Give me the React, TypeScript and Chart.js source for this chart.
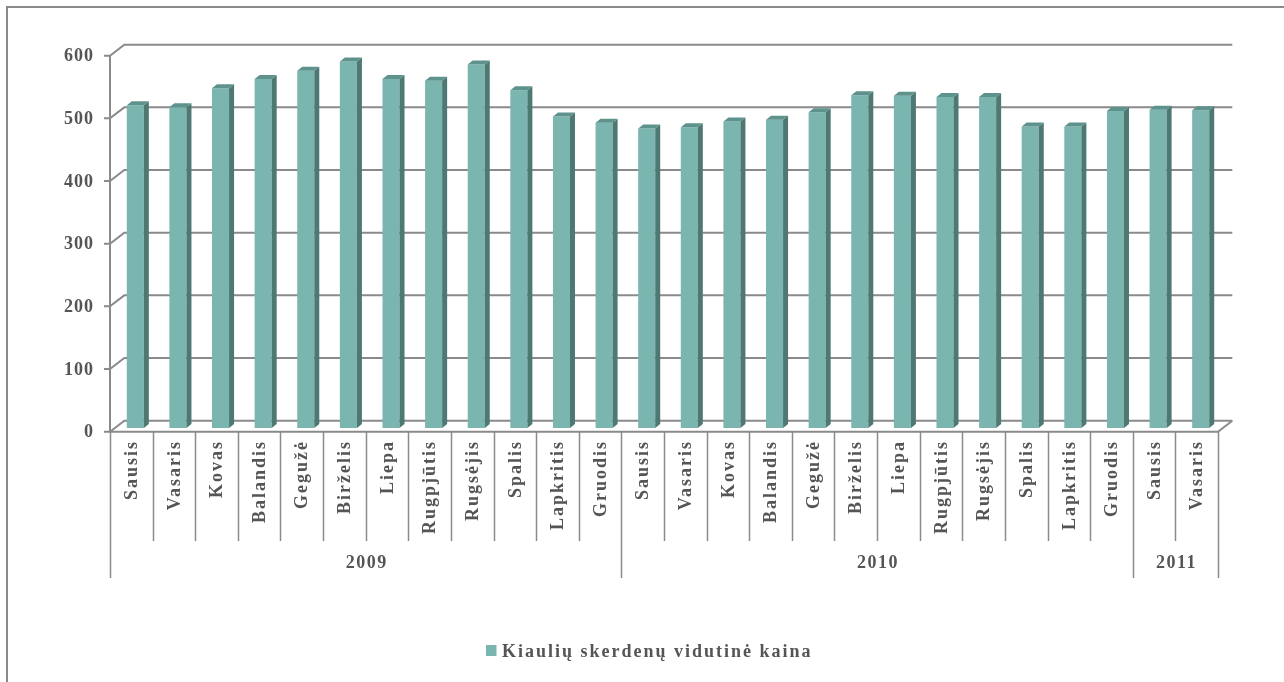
import React, { useEffect, useRef } from 'react';
import { Chart, registerables } from 'chart.js';

Chart.register(...registerables);

const months = [
  'Sausis', 'Vasaris', 'Kovas', 'Balandis', 'Gegužė', 'Birželis', 'Liepa', 'Rugpjūtis', 'Rugsėjis', 'Spalis', 'Lapkritis', 'Gruodis',
  'Sausis', 'Vasaris', 'Kovas', 'Balandis', 'Gegužė', 'Birželis', 'Liepa', 'Rugpjūtis', 'Rugsėjis', 'Spalis', 'Lapkritis', 'Gruodis',
  'Sausis', 'Vasaris',
];
const years = ['2009', '2010', '2011'];
const yearSpans = [12, 12, 2];
const prices = [
  515, 512, 542, 557, 570, 585, 557, 554, 580, 539, 497, 487,
  478, 480, 489, 492, 504, 531, 530, 528, 528, 481, 481, 506,
  508, 507,
];
const seriesLabel = 'Kiaulių skerdenų vidutinė kaina';
const yTickValues = [0, 100, 200, 300, 400, 500, 600];

const FRONT_COLOR = '#7AB5B0';
const SIDE_COLOR = '#4E7872';
const TOP_COLOR = '#5E928C';
const GRID_COLOR = '#8A8A8A';
const TEXT_COLOR = '#555555';
const FONT = 'bold 18px "Liberation Serif", "Times New Roman", serif';

// 3D offsets relative to the bar plane
const FRONT_DX = -4, FRONT_DY = 3.7;
const BACK_DX = 10.3, BACK_DY = -7.3;
const BAR_DX = 5, BAR_DY = -4;

const excel3d = {
  id: 'excel3d',
  beforeDatasetsDraw(chart: any) {
    const ctx = chart.ctx as CanvasRenderingContext2D;
    const area = chart.chartArea;
    const xs = chart.scales.x;
    const ys = chart.scales.y;
    ctx.save();
    // outer border (extends beyond viewport on right/bottom)
    ctx.strokeStyle = GRID_COLOR;
    ctx.lineWidth = 2;
    ctx.beginPath();
    ctx.moveTo(7, 700);
    ctx.lineTo(7, 7);
    ctx.lineTo(1300, 7);
    ctx.stroke();

    const fl = area.left + FRONT_DX;
    const fr = area.right + FRONT_DX;
    const bl = area.left + BACK_DX;
    const br = area.right + BACK_DX;
    ctx.strokeStyle = GRID_COLOR;
    ctx.lineWidth = 2;
    // gridlines on back wall + left diagonals + ticks
    for (const v of yTickValues) {
      const py = ys.getPixelForValue(v);
      const yf = py + FRONT_DY;
      const yb = py + BACK_DY;
      ctx.beginPath();
      ctx.moveTo(fl - 6, yf);
      ctx.lineTo(fl, yf);
      ctx.lineTo(bl, yb);
      ctx.lineTo(br, yb);
      ctx.stroke();
    }
    // front vertical axis
    const y0 = ys.getPixelForValue(0);
    const yTop = ys.getPixelForValue(600);
    ctx.beginPath();
    ctx.moveTo(fl, yTop + FRONT_DY);
    ctx.lineTo(fl, y0 + FRONT_DY);
    ctx.stroke();
    // floor front edge + right diagonal
    ctx.beginPath();
    ctx.moveTo(fl, y0 + FRONT_DY);
    ctx.lineTo(fr, y0 + FRONT_DY);
    ctx.lineTo(br, y0 + BACK_DY);
    ctx.stroke();

    // y labels
    ctx.fillStyle = TEXT_COLOR;
    ctx.font = FONT;
    (ctx as any).letterSpacing = '1px';
    ctx.textAlign = 'right';
    ctx.textBaseline = 'middle';
    for (const v of yTickValues) {
      const py = ys.getPixelForValue(v) + FRONT_DY;
      ctx.fillText(String(v), 94, py + 1);
    }

    // category dividers & labels
    const n = months.length;
    const cw = (area.right - area.left) / n;
    const axisY = y0 + FRONT_DY;
    const yearBounds = new Set<number>();
    let acc = 0;
    yearBounds.add(0);
    for (const s of yearSpans) { acc += s; yearBounds.add(acc); }
    ctx.lineWidth = 1.5;
    for (let i = 0; i <= n; i++) {
      const bx = fl + cw * i;
      const bottom = yearBounds.has(i) ? 578 : 541;
      ctx.beginPath();
      ctx.moveTo(Math.round(bx) + 0.5, axisY);
      ctx.lineTo(Math.round(bx) + 0.5, bottom);
      ctx.stroke();
    }
    (ctx as any).letterSpacing = '2px';
    for (let i = 0; i < n; i++) {
      const cx = xs.getPixelForValue(i) + FRONT_DX;
      ctx.save();
      ctx.translate(cx + 1, 440);
      ctx.rotate(-Math.PI / 2);
      ctx.textAlign = 'right';
      ctx.textBaseline = 'middle';
      ctx.fillText(months[i], 0, 0);
      ctx.restore();
    }
    (ctx as any).letterSpacing = '1.5px';
    ctx.textAlign = 'center';
    ctx.textBaseline = 'middle';
    let start = 0;
    years.forEach((yr, k) => {
      const end = start + yearSpans[k];
      const cx = fl + cw * (start + end) / 2;
      ctx.fillText(yr, cx + 1, 563);
      start = end;
    });

    // legend
    const ds = chart.data.datasets[0];
    ctx.fillStyle = ds.backgroundColor;
    ctx.fillRect(486, 645, 10.5, 11);
    ctx.fillStyle = TEXT_COLOR;
    ctx.textAlign = 'left';
    (ctx as any).letterSpacing = '2px';
    ctx.fillText(ds.label, 502, 652);
    ctx.restore();
  },
  afterDatasetsDraw(chart: any) {
    const ctx = chart.ctx as CanvasRenderingContext2D;
    const meta = chart.getDatasetMeta(0);
    ctx.save();
    meta.data.forEach((el: any) => {
      const { x, y, base, width } = el.getProps(['x', 'y', 'base', 'width'], true);
      const l = x - width / 2;
      const r = x + width / 2;
      ctx.fillStyle = SIDE_COLOR;
      ctx.beginPath();
      ctx.moveTo(r, y);
      ctx.lineTo(r + BAR_DX, y + BAR_DY);
      ctx.lineTo(r + BAR_DX, base + BAR_DY);
      ctx.lineTo(r, base);
      ctx.closePath();
      ctx.fill();
      ctx.fillStyle = TOP_COLOR;
      ctx.beginPath();
      ctx.moveTo(l, y);
      ctx.lineTo(l + BAR_DX, y + BAR_DY);
      ctx.lineTo(r + BAR_DX, y + BAR_DY);
      ctx.lineTo(r, y);
      ctx.closePath();
      ctx.fill();
    });
    ctx.restore();
  },
};

export default function App() {
  const ref = useRef<HTMLCanvasElement | null>(null);
  useEffect(() => {
    if (!ref.current) return;
    const chart = new Chart(ref.current, {
      type: 'bar',
      data: {
        labels: months,
        datasets: [
          {
            label: seriesLabel,
            data: prices,
            backgroundColor: FRONT_COLOR,
            borderWidth: 0,
            barPercentage: 0.4,
            categoryPercentage: 1,
          },
        ],
      },
      options: {
        responsive: false,
        animation: false,
        devicePixelRatio: 1,
        layout: { padding: { left: 114, right: 62, top: 52, bottom: 254 } },
        plugins: { legend: { display: false }, tooltip: { enabled: false } },
        scales: {
          x: { display: false },
          y: { display: false, min: 0, max: 600, ticks: { stepSize: 100 } },
        },
      },
      plugins: [excel3d],
    } as any);
    return () => chart.destroy();
  }, []);
  return (
    <div style={{ position: 'fixed', left: 0, top: 0, width: 1284, height: 682, background: '#fff' }}>
      <canvas ref={ref} width={1284} height={682} style={{ display: 'block' }} />
    </div>
  );
}
